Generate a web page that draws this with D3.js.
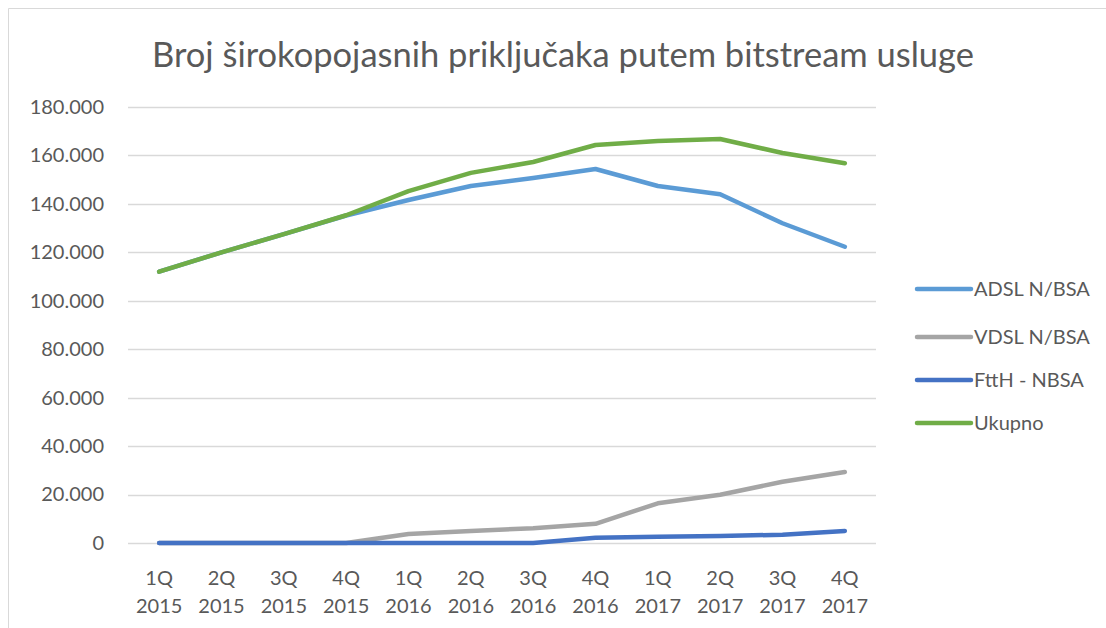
<!DOCTYPE html>
<html>
<head>
<meta charset="utf-8">
<script src="https://cdn.jsdelivr.net/npm/d3@7"></script>
<style>
  body { margin: 0; background: #fff; }
  svg { display: block; font-family: Lato, "Open Sans", sans-serif; }
</style>
</head>
<body>
<svg id="chart"></svg>
<script>
var width = 1106;
var height = 628;

// data
var quarters = ["1Q 2015", "2Q 2015", "3Q 2015", "4Q 2015", "1Q 2016", "2Q 2016",
                "3Q 2016", "4Q 2016", "1Q 2017", "2Q 2017", "3Q 2017", "4Q 2017"];
var adsl   = [112000, 120000, 127500, 135200, 141600, 147400, 150700, 154400, 147400, 144000, 132000, 122300];
var vdsl   = [0, 0, 0, 0, 3700, 5000, 6100, 7900, 16400, 19900, 25300, 29300];
var ftth   = [0, 0, 0, 0, 0, 0, 0, 2200, 2600, 2900, 3400, 5000];
var ukupno = [112000, 120000, 127500, 135300, 145300, 152800, 157300, 164300, 166000, 166800, 161000, 156800];
var yTicks = [0, 20000, 40000, 60000, 80000, 100000, 120000, 140000, 160000, 180000];

var series = [
  {name: "ADSL N/BSA", values: adsl, color: "#5B9BD5"},
  {name: "VDSL N/BSA", values: vdsl, color: "#A5A5A5"},
  {name: "FttH - NBSA", values: ftth, color: "#4472C4"},
  {name: "Ukupno", values: ukupno, color: "#70AD47"}
];

var svg = d3.select("#chart")
  .attr("width", width)
  .attr("height", height);

// chart border (only top/left visible in the reference)
svg.append("path")
  .attr("d", "M8.5," + height + "V8.5H" + width)
  .style("fill", "none")
  .style("stroke", "#d9d9d9");

svg.append("text")
  .attr("x", 563)
  .attr("y", 67)
  .attr("text-anchor", "middle")
  .style("font-size", "34.5px")
  .style("fill", "#595959")
  .text("Broj širokopojasnih priključaka putem bitstream usluge");

var x = d3.scaleBand().domain(quarters).range([128, 876]);
var y = d3.scaleLinear().domain([0, 180000]).range([543, 107]);

var fmt = function(v) { return d3.format(",")(v).replace(/,/g, "."); };

// gridlines
svg.append("g")
  .selectAll("line")
  .data(yTicks)
  .enter()
  .append("line")
    .attr("x1", 128).attr("x2", 876)
    .attr("y1", function(d) { return Math.round(y(d)) + 0.5; })
    .attr("y2", function(d) { return Math.round(y(d)) + 0.5; })
    .style("stroke", "#d9d9d9")
    .style("stroke-width", 1.5);

// y axis labels
var yAxis = svg.append("g")
  .attr("transform", "translate(104,0)")
  .call(d3.axisLeft(y).tickValues(yTicks).tickFormat(fmt).tickSize(0).tickPadding(0));
yAxis.select(".domain").remove();
yAxis.selectAll("text")
  .style("font-size", "20px")
  .style("font-family", "Lato, 'Open Sans', sans-serif")
  .style("fill", "#595959");

// x axis labels, two lines
var xAxis = svg.append("g")
  .attr("transform", "translate(0,543)")
  .call(d3.axisBottom(x).tickSize(0).tickFormat(""));
xAxis.select(".domain").remove();
xAxis.selectAll(".tick").each(function(d) {
  var parts = d.split(" ");
  var t = d3.select(this).append("text")
    .attr("text-anchor", "middle")
    .style("font-size", "20px")
    .style("font-family", "Lato, 'Open Sans', sans-serif")
    .style("fill", "#595959");
  t.append("tspan").attr("x", 0).attr("y", 42).text(parts[0]);
  t.append("tspan").attr("x", 0).attr("y", 70).text(parts[1]);
});

var line = d3.line()
  .x(function(d, i) { return x(quarters[i]) + x.bandwidth() / 2; })
  .y(function(d) { return y(d); });

// draw in order so that Ukupno sits on top
svg.append("g")
  .selectAll("path")
  .data(series)
  .enter()
  .append("path")
    .attr("d", function(d) { return line(d.values); })
    .style("fill", "none")
    .style("stroke", function(d) { return d.color; })
    .style("stroke-width", 4.5)
    .style("stroke-linecap", "round")
    .style("stroke-linejoin", "round");

// legend
var legendY = [289, 337, 380, 423];
var legend = svg.append("g")
  .selectAll("g")
  .data(series)
  .enter()
  .append("g")
    .attr("transform", function(d, i) { return "translate(917," + legendY[i] + ")"; });
legend.append("line")
  .attr("x1", 0).attr("x2", 54)
  .style("stroke", function(d) { return d.color; })
  .style("stroke-width", 4.5)
  .style("stroke-linecap", "round");
legend.append("text")
  .attr("x", 57)
  .attr("dy", "0.35em")
  .style("font-size", "20px")
  .style("fill", "#595959")
  .text(function(d) { return d.name; });
</script>
</body>
</html>
